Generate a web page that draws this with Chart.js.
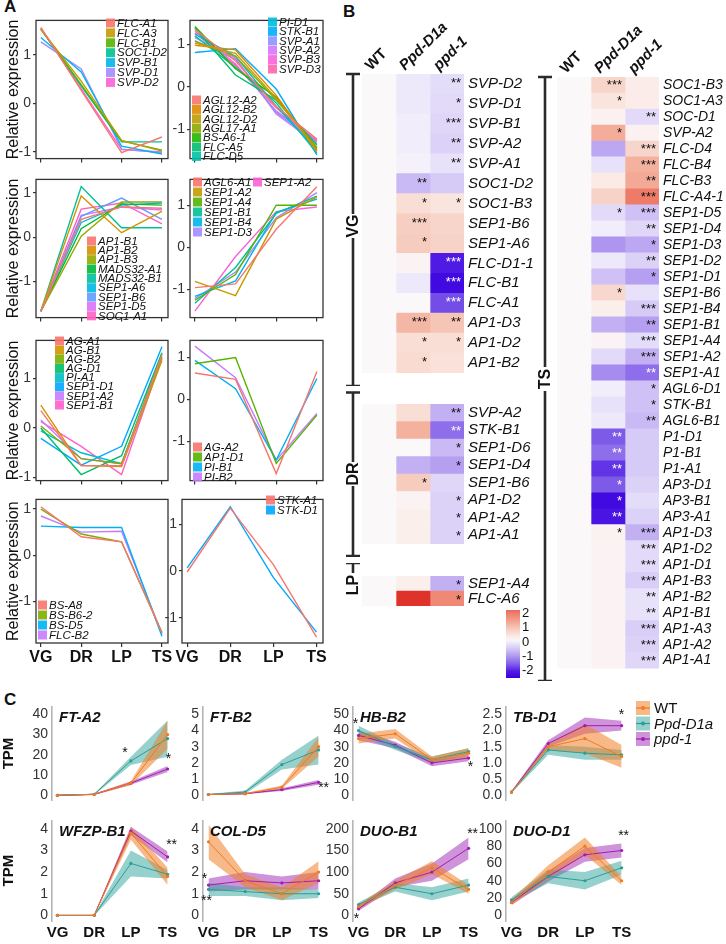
<!DOCTYPE html>
<html>
<head>
<meta charset="utf-8">
<script src="https://cdn.jsdelivr.net/npm/chart.js@4.4.0/dist/chart.umd.min.js"></script>
<style>
  html, body { margin: 0; padding: 0; background: #fff; }
  #fig { position: relative; width: 726px; height: 944px; overflow: hidden; font-family: "Liberation Sans", Arial, sans-serif; }
  #fig canvas { position: absolute; }
  .plab { position: absolute; font-weight: bold; font-size: 17px; color: #111; }
</style>
</head>
<body>
<div id="fig">
  <div class="plab" style="left:4px;top:-3px">A</div>
  <div class="plab" style="left:343px;top:2px">B</div>
  <div class="plab" style="left:4px;top:690px">C</div>
</div>
<script>
'use strict'

const stages = ['VG', 'DR', 'LP', 'TS']

// ---------- Panel A : relative expression per cluster ----------
const a1Genes = ['FLC-A1', 'FLC-A3', 'FLC-B1', 'SOC1-D2', 'SVP-B1', 'SVP-D1', 'SVP-D2']
const a1Values = [
    [1.57, 0.27, -1.01, -0.69],
    [1.53, 0.46, -0.76, -0.98],
    [1.53, 0.39, -0.77, -0.96],
    [1.54, 0.36, -0.79, -0.79],
    [1.36, 0.65, -0.88, -1.04],
    [1.27, 0.71, -0.94, -1.01],
    [1.55, 0.30, -0.95, -1.00]
]
const a2Genes = ['AGL12-A2', 'AGL12-B2', 'AGL12-D2', 'AGL17-A1', 'BS-A6-1', 'FLC-A5', 'FLC-D5',
    'PI-D1', 'STK-B1', 'SVP-A1', 'SVP-A2', 'SVP-B3', 'SVP-D3']
const a2Values = [
    [1.35, 0.61, -0.46, -1.23],
    [0.98, 0.87, -0.20, -1.52],
    [1.03, 0.79, -0.27, -1.47],
    [1.07, 0.72, -0.31, -1.42],
    [1.42, 0.43, -0.24, -1.45],
    [1.38, 0.28, -0.31, -1.37],
    [1.20, 0.46, -0.38, -1.56],
    [1.24, 0.72, -0.46, -1.49],
    [0.81, 0.90, -0.05, -1.60],
    [1.09, 0.65, -0.60, -1.30],
    [1.16, 0.68, -0.64, -1.34],
    [1.31, 0.54, -0.57, -1.26],
    [1.27, 0.50, -0.49, -1.28]
]
const a3Genes = ['AP1-B1', 'AP1-B2', 'AP1-B3', 'MADS32-A1', 'MADS32-B1', 'SEP1-A6', 'SEP1-B6', 'SEP1-D5', 'SOC1-A1']
const a3Values = [
    [-1.67, 0.40, 0.68, 0.65],
    [-1.67, 0.93, 0.10, 0.58],
    [-1.67, 0.02, 0.79, 0.79],
    [-1.67, 0.19, 0.75, 0.72],
    [-1.67, 1.14, 0.21, 0.21],
    [-1.67, 0.33, 0.72, 0.77],
    [-1.67, 0.47, 0.88, 0.40],
    [-1.67, 0.49, 0.68, 0.61],
    [-1.67, 0.63, 0.77, 0.30]
]
const a4Genes = ['AGL6-A1', 'SEP1-A2', 'SEP1-A4', 'SEP1-B1', 'SEP1-B4', 'SEP1-D3', 'SEP1-A2']
const a4Values = [
    [-0.96, -0.87, 0.43, 1.44],
    [-0.81, -1.15, 0.67, 1.20],
    [-1.26, -0.65, 1.00, 1.00],
    [-1.33, -0.48, 0.81, 1.22],
    [-1.17, -0.80, 0.83, 1.15],
    [-1.22, -0.59, 0.70, 1.30],
    [-1.52, -0.22, 0.85, 0.96]
]
const a5Genes = ['AG-A1', 'AG-B1', 'AG-B2', 'AG-D1', 'PI-A1', 'SEP1-D1', 'SEP1-A2', 'SEP1-B1']
const a5Values = [
    [0.35, -0.76, -0.76, 1.48],
    [0.46, -0.76, -0.78, 1.36],
    [0.04, -0.62, -0.72, 1.44],
    [0.00, -0.94, -0.56, 1.52],
    [-0.06, -0.50, -0.72, 1.50],
    [-0.21, -0.75, -0.37, 1.64],
    [0.16, -0.62, -0.72, 1.40],
    [0.13, -0.37, -0.94, 1.42]
]
const a6Genes = ['AG-A2', 'AP1-D1', 'PI-B1', 'PI-B2']
const a6Values = [
    [0.63, 0.48, -1.76, 0.67],
    [0.85, 1.00, -1.52, -0.37],
    [0.93, 0.26, -1.44, 0.50],
    [1.27, 0.52, -1.44, -0.33]
]
const a7Genes = ['BS-A8', 'BS-B6-2', 'BS-D5', 'FLC-B2']
const a7Values = [
    [1.05, 0.40, 0.29, -1.67],
    [1.00, 0.46, 0.29, -1.67],
    [0.63, 0.60, 0.60, -1.75],
    [0.85, 0.50, 0.52, -1.70]
]
const a8Genes = ['STK-A1', 'STK-D1']
const a8Values = [
    [-0.02, 1.35, 0.14, -1.42],
    [0.07, 1.38, -0.14, -1.31]
]

// ---------- Panel B : heat maps (WT, Ppd-D1a, ppd-1) ----------
const hmCols = ['WT', 'Ppd-D1a', 'ppd-1']
const vgGenes = ['SVP-D2', 'SVP-D1', 'SVP-B1', 'SVP-A2', 'SVP-A1', 'SOC1-D2', 'SOC1-B3', 'SEP1-B6', 'SEP1-A6',
    'FLC-D1-1', 'FLC-B1', 'FLC-A1', 'AP1-D3', 'AP1-D2', 'AP1-B2']
const vgHeat = [
    [0, -0.2, -0.35], [0, -0.2, -0.4], [0, -0.15, -0.45], [0, -0.15, -0.5], [0, -0.1, -0.3],
    [0, -0.8, -0.6], [0, 0.5, 0.4], [0, 0.75, 0.65], [0, 0.8, 0.7],
    [0, 0.1, -2.3], [0, -0.2, -2.6], [0, 0, -1.9], [0, 1.1, 0.9], [0, 0.5, 0.5], [0, 0.55, 0.45]
]
const vgStars = [
    ['', '', '**'], ['', '', '*'], ['', '', '***'], ['', '', '**'], ['', '', '**'],
    ['', '**', ''], ['', '*', '*'], ['', '***', ''], ['', '*', ''],
    ['', '', '***'], ['', '', '***'], ['', '', '***'], ['', '***', '**'], ['', '*', '*'], ['', '*', '']
]
const drGenes = ['SVP-A2', 'STK-B1', 'SEP1-D6', 'SEP1-D4', 'SEP1-B6', 'AP1-D2', 'AP1-A2', 'AP1-A1']
const drHeat = [
    [0, 0.5, -0.9], [0, 1.2, -1.6], [0, 0, -0.8], [0, -0.9, -1.1],
    [0, 0.8, -0.45], [0, 0.1, -0.5], [0, 0.2, -0.5], [0, 0.2, -0.5]
]
const drStars = [
    ['', '', '**'], ['', '', '**'], ['', '', '*'], ['', '', '*'],
    ['', '*', ''], ['', '', '*'], ['', '', '*'], ['', '', '*']
]
const lpGenes = ['SEP1-A4', 'FLC-A6']
const lpHeat = [[0, 0.2, -0.9], [0, 2.8, 1.8]]
const lpStars = [['', '', '*'], ['', '', '*']]
const tsGenes = ['SOC1-B3', 'SOC1-A3', 'SOC-D1', 'SVP-A2', 'FLC-D4', 'FLC-B4', 'FLC-B3', 'FLC-A4-1',
    'SEP1-D5', 'SEP1-D4', 'SEP1-D3', 'SEP1-D2', 'SEP1-D1', 'SEP1-B6', 'SEP1-B4', 'SEP1-B1', 'SEP1-A4',
    'SEP1-A2', 'SEP1-A1', 'AGL6-D1', 'STK-B1', 'AGL6-B1', 'P1-D1', 'P1-B1', 'P1-A1', 'AP3-D1', 'AP3-B1',
    'AP3-A1', 'AP1-D3', 'AP1-D2', 'AP1-D1', 'AP1-B3', 'AP1-B2', 'AP1-B1', 'AP1-A3', 'AP1-A2', 'AP1-A1']
const tsHeat = [
    [0, 0.65, 0.25], [0, 0.4, 0.25], [0, 0.15, -0.4], [0, 1.25, 0.15], [0, -1.0, 0.65], [0, -0.3, 1.2],
    [0, 0.3, 1.3], [0, 0.7, 2.0], [0, -0.4, -0.7], [0, -0.15, -0.45], [0, -1.2, -1.0], [0, -0.2, -0.5],
    [0, -0.7, -1.1], [0, 0.6, -0.3], [0, 0.2, -0.6], [0, -0.9, -1.1], [0, 0.1, -0.35], [0, -0.4, -0.9],
    [0, -1.3, -1.6], [0, -0.15, -0.7], [0, -0.3, -0.7], [0, -0.2, -0.8], [0, -1.8, -0.6], [0, -1.6, -0.6],
    [0, -2.1, -0.6], [0, -1.8, -0.5], [0, -2.6, -0.35], [0, -2.4, -0.5], [0, 0.15, -0.9], [0, 0.1, -0.4],
    [0, 0.1, -0.4], [0, 0.1, -0.55], [0, 0.1, -0.3], [0, 0.1, -0.3], [0, 0.1, -0.55], [0, 0.1, -0.5],
    [0, 0.1, -0.45]
]
const tsStars = [
    ['', '***', ''], ['', '*', ''], ['', '', '**'], ['', '*', ''], ['', '', '***'], ['', '', '***'],
    ['', '', '**'], ['', '', '***'], ['', '*', '***'], ['', '', '**'], ['', '', '*'], ['', '', '**'],
    ['', '', '*'], ['', '*', ''], ['', '', '***'], ['', '', '**'], ['', '', '***'], ['', '', '***'],
    ['', '', '**'], ['', '', '*'], ['', '', '*'], ['', '', '**'], ['', '**', ''], ['', '**', ''],
    ['', '**', ''], ['', '*', ''], ['', '*', ''], ['', '**', ''], ['', '*', '***'], ['', '', '***'],
    ['', '', '***'], ['', '', '***'], ['', '', '**'], ['', '', '**'], ['', '', '***'], ['', '', '***'],
    ['', '', '***']
]
const barTicks = [2, 1, 0, -1, -2]

// ---------- Panel C : TPM, mean and band per genotype (WT, Ppd-D1a, ppd-1) ----------
const genotypes = ['WT', 'Ppd-D1a', 'ppd-1']
const ftA2Mean = [[0, 0.5, 6, 30], [0, 0.5, 17, 28], [0, 0.5, 6, 13]]
const ftA2Se = [[0.3, 0.3, 1, 7], [0.3, 0.3, 2, 9], [0.3, 0.3, 0.8, 1.5]]
const ftB2Mean = [[0.05, 0.1, 0.5, 3.0], [0.05, 0.2, 1.9, 2.8], [0.05, 0.1, 0.35, 0.8]]
const ftB2Se = [[0.03, 0.05, 0.1, 0.6], [0.03, 0.1, 0.3, 0.9], [0.03, 0.03, 0.08, 0.15]]
const hbB2Mean = [[35, 38, 22, 26], [40, 30, 22, 27], [37, 31, 20, 23]]
const hbB2Se = [[3, 3, 2, 3], [3, 2, 2, 2], [3, 2, 2, 2]]
const tbD1Mean = [[0.1, 1.5, 1.75, 1.2], [0.1, 1.4, 1.3, 1.25], [0.1, 1.6, 2.15, 2.15]]
const tbD1Se = [[0.03, 0.1, 0.45, 0.35], [0.03, 0.15, 0.2, 0.15], [0.03, 0.1, 0.25, 0.15]]
const wfzpB1Mean = [[0, 0, 3.8, 1.8], [0, 0, 2.4, 1.9], [0, 0, 3.9, 2.7]]
const wfzpB1Se = [[0.02, 0.02, 0.3, 0.4], [0.02, 0.02, 0.6, 0.2], [0.02, 0.02, 0.2, 0.25]]
const colD5Mean = [[3.4, 1.6, 1.0, 2.0], [1.2, 1.1, 1.0, 1.0], [1.4, 1.6, 1.5, 1.6]]
const colD5Se = [[0.8, 0.3, 0.3, 0.5], [0.3, 0.2, 0.3, 0.2], [0.3, 0.4, 0.3, 0.4]]
const duoB1Mean = [[20, 70, 110, 60], [25, 65, 50, 70], [15, 75, 100, 155]]
const duoB1Se = [[5, 10, 15, 10], [5, 10, 15, 15], [5, 10, 20, 25]]
const duoD1Mean = [[15, 50, 80, 40], [18, 45, 40, 55], [15, 45, 70, 75]]
const duoD1Se = [[3, 8, 10, 5], [3, 8, 10, 8], [3, 6, 8, 8]]

// ggplot style hue palettes
const hue2 = ['#F8766D', '#00A9FF']
const hue4 = ['#F8766D', '#53B400', '#00B0F6', '#C77CFF']
const hue4b = ['#F8766D', '#7CAE00', '#00B0F6', '#C77CFF']
const hue7 = ['#F8766D', '#C49A00', '#53B400', '#00C094', '#00B6EB', '#A58AFF', '#FB61D7']
const hue8 = ['#F8766D', '#CD9600', '#7CAE00', '#00BE67', '#00BFC4', '#00A9FF', '#C77CFF', '#FF61CC']
const hue9 = ['#F8766D', '#D39200', '#93AA00', '#00BA38', '#00C19F', '#00B9E3', '#619CFF', '#DB72FB', '#FF61C3']
const hue13 = ['#F8766D', '#E18A00', '#BE9C00', '#8CAB00', '#24B700', '#00BE70', '#00C1AB', '#00BBDA',
    '#00ACFC', '#8B93FF', '#D575FE', '#F962DD', '#FF65AC']

const FONT = '"Liberation Sans", Arial, Helvetica, sans-serif'
Chart.defaults.font.family = FONT
Chart.defaults.color = '#222'

function canvasAt(l, t, w, h) {
    const c = document.createElement('canvas')
    c.width = w
    c.height = h
    c.style.left = l + 'px'
    c.style.top = t + 'px'
    document.getElementById('fig').appendChild(c)
    return c
}

// frame around the plot area
const boxPlugin = {
    id: 'box',
    afterDraw(chart) {
        const a = chart.chartArea, ctx = chart.ctx
        ctx.save()
        ctx.strokeStyle = '#333'
        ctx.lineWidth = 1.3
        ctx.strokeRect(a.left, a.top, a.right - a.left, a.bottom - a.top)
        ctx.restore()
    }
}

// legend drawn inside the panel (groups of items, absolute page coords)
function legendPlugin(groups, ox, oy) {
    return {
        id: 'inlegend',
        afterDraw(chart) {
            const ctx = chart.ctx
            const ds = chart.data.datasets
            ctx.save()
            ctx.font = 'italic 11.5px ' + FONT
            ctx.textBaseline = 'middle'
            groups.forEach(g => {
                for (let i = g.from; i <= g.to; i++) {
                    const y = g.y + (i - g.from) * g.dy - oy
                    const x = g.x - ox
                    ctx.fillStyle = ds[i].borderColor
                    ctx.globalAlpha = 0.9
                    ctx.fillRect(x, y - 4.5, 9, 9)
                    ctx.globalAlpha = 1
                    ctx.fillStyle = '#111'
                    ctx.fillText(ds[i].label, x + 11, y + 0.5)
                }
            })
            ctx.restore()
        }
    }
}

function exprChart(p) {
    const cl = p.cl, ct = p.at - 5, cr = p.ar + 12, cb = p.ab + (p.xlab ? 24 : 6)
    const per = (p.pym1 - p.py1) / 2
    const zero = (p.py1 + p.pym1) / 2
    const ymax = (zero - p.at) / per
    const ymin = -(p.ab - zero) / per
    const cv = canvasAt(cl, ct, cr - cl, cb - ct)
    new Chart(cv, {
        type: 'line',
        data: {
            datasets: p.genes.map((g, i) => ({
                label: g,
                data: p.values[i].map((v, j) => ({x: j, y: v})),
                borderColor: p.colors[i],
                borderWidth: 1.4,
                pointRadius: 0,
                fill: false,
                tension: 0
            }))
        },
        options: {
            responsive: false,
            animation: false,
            layout: {padding: {top: p.at - ct, right: cr - p.ar, left: 0, bottom: 0}},
            plugins: {legend: {display: false}, tooltip: {enabled: false}},
            scales: {
                x: {
                    type: 'linear', min: -0.12, max: 3.15,
                    afterBuildTicks: s => { s.ticks = [0, 1, 2, 3].map(v => ({value: v})) },
                    afterFit: s => { s.height = cb - p.ab },
                    grid: {drawOnChartArea: false, tickLength: 4, color: '#333', lineWidth: 1.2},
                    border: {display: false},
                    ticks: {
                        display: !!p.xlab, maxRotation: 0, padding: 1, color: '#111',
                        font: {size: 16, weight: 'bold'},
                        callback: v => stages[v]
                    }
                },
                y: {
                    min: ymin, max: ymax,
                    afterBuildTicks: s => { s.ticks = [-1, 0, 1].map(v => ({value: v})) },
                    afterFit: s => { s.width = p.al - cl },
                    grid: {drawOnChartArea: false, tickLength: 3, color: '#333', lineWidth: 1.2},
                    border: {display: false},
                    ticks: {font: {size: 14}, color: '#333', padding: 2, autoSkip: false},
                    title: {
                        display: !!p.ytitle, text: 'Relative expression', color: '#111',
                        font: {size: 16}, padding: {top: 4, bottom: 0}
                    }
                }
            }
        },
        plugins: [boxPlugin, legendPlugin(p.legend, cl, ct)]
    })
}

// row tops/bottoms and column lefts/rights of panel A
exprChart({genes: a1Genes, values: a1Values, colors: hue7, cl: 0, al: 36, ar: 168, at: 15, ab: 163,
    py1: 52, pym1: 156, ytitle: true, legend: [{x: 106, y: 23, dy: 9.9, from: 0, to: 6}]})
exprChart({genes: a2Genes, values: a2Values, colors: hue13, cl: 168, al: 190, ar: 323, at: 15, ab: 163,
    py1: 40.7, pym1: 131.7, legend: [{x: 268, y: 22, dy: 9.4, from: 7, to: 12}, {x: 192, y: 100, dy: 9.4, from: 0, to: 6}]})
exprChart({genes: a3Genes, values: a3Values, colors: hue9, cl: 0, al: 36, ar: 168, at: 174, ab: 322,
    py1: 188.3, pym1: 283.3, ytitle: true, legend: [{x: 87, y: 241, dy: 9.35, from: 0, to: 8}]})
exprChart({genes: a4Genes, values: a4Values, colors: hue7, cl: 168, al: 190, ar: 323, at: 174, ab: 322,
    py1: 201.7, pym1: 291.7, legend: [{x: 193, y: 182, dy: 10, from: 0, to: 5}, {x: 253, y: 182, dy: 10, from: 6, to: 6}]})
exprChart({genes: a5Genes, values: a5Values, colors: hue8, cl: 0, al: 36, ar: 168, at: 335, ab: 485,
    py1: 375.7, pym1: 481.7, ytitle: true, legend: [{x: 55, y: 341, dy: 9.15, from: 0, to: 7}]})
exprChart({genes: a6Genes, values: a6Values, colors: hue4, cl: 168, al: 190, ar: 323, at: 335, ab: 485,
    py1: 353.3, pym1: 443.3, legend: [{x: 193, y: 447, dy: 10, from: 0, to: 3}]})
exprChart({genes: a7Genes, values: a7Values, colors: hue4b, cl: 0, al: 36, ar: 168, at: 494, ab: 643,
    py1: 504, pym1: 600, ytitle: true, xlab: true, legend: [{x: 38, y: 605, dy: 10, from: 0, to: 3}]})
exprChart({genes: a8Genes, values: a8Values, colors: hue2, cl: 160, al: 182, ar: 323, at: 494, ab: 643,
    py1: 520, pym1: 616.7, xlab: true, legend: [{x: 266, y: 500, dy: 10, from: 0, to: 1}]})

// ---------- heat map helpers ----------
const heatStops = [
    [-2.8, [56, 0, 222]], [-2.3, [78, 26, 228]], [-1.8, [126, 90, 232]], [-1.2, [174, 150, 240]],
    [-0.6, [214, 202, 246]], [-0.2, [237, 233, 250]], [0, [251, 248, 249]], [0.3, [251, 234, 230]],
    [0.8, [246, 204, 190]], [1.5, [241, 156, 134]], [2.1, [236, 116, 98]], [2.8, [222, 50, 42]]
]
function heat(v) {
    v = Math.max(-2.8, Math.min(2.8, v))
    for (let i = 1; i < heatStops.length; i++) {
        const [v1, c1] = heatStops[i]
        const [v0, c0] = heatStops[i - 1]
        if (v <= v1) {
            const t = (v - v0) / (v1 - v0)
            const c = c0.map((x, k) => Math.round(x + (c1[k] - x) * t))
            return 'rgb(' + c.join(',') + ')'
        }
    }
    return 'rgb(222,50,42)'
}

function sideBar(ctx, x, y0, y1, label, ty, caps) {
    ctx.save()
    ctx.strokeStyle = '#2a2a2a'
    ctx.lineWidth = 2.6
    ctx.beginPath()
    ctx.moveTo(x, y0); ctx.lineTo(x, ty - 12)
    if (y1 > ty + 12) { ctx.moveTo(x, ty + 12); ctx.lineTo(x, y1) }
    ctx.moveTo(x - 7, y0); ctx.lineTo(x + 7, y0)
    if (caps) { ctx.moveTo(x - 7, y1); ctx.lineTo(x + 7, y1) }
    ctx.stroke()
    ctx.translate(x, ty)
    ctx.rotate(-Math.PI / 2)
    ctx.fillStyle = '#111'
    ctx.font = 'bold 16px ' + FONT
    ctx.textAlign = 'center'
    ctx.textBaseline = 'middle'
    ctx.fillText(label, 0, 1)
    ctx.restore()
}

function headers(ctx, chart, ty) {
    const a = chart.chartArea
    const w = (a.right - a.left) / 3
    ctx.save()
    hmCols.forEach((h, c) => {
        ctx.save()
        ctx.translate(a.left + w * c + w / 2 - 8, ty)
        ctx.rotate(-Math.PI / 4)
        ctx.fillStyle = '#111'
        ctx.font = (c === 0 ? 'bold ' : 'italic bold ') + '15px ' + FONT
        ctx.fillText(h, 0, 0)
        ctx.restore()
    })
    ctx.restore()
}

function heatChart(p) {
    const cv = canvasAt(p.cl, p.ct, p.cw, p.ch)
    const decor = {
        id: 'decor',
        afterDatasetsDraw(chart) {
            const ctx = chart.ctx
            ctx.save()
            ctx.font = '13px ' + FONT
            ctx.textAlign = 'right'
            ctx.textBaseline = 'alphabetic'
            for (let c = 0; c < 3; c++) {
                const meta = chart.getDatasetMeta(c)
                meta.data.forEach((el, i) => {
                    const s = p.stars[i][c]
                    if (!s) return
                    const right = Math.max(el.x, el.base)
                    const top = el.y - el.height / 2
                    ctx.fillStyle = p.heat[i][c] < -1.5 ? '#fff' : '#111'
                    ctx.fillText(s, right - 3, top + p.starDy)
                })
            }
            ctx.restore()
            if (p.extra) p.extra(ctx, chart)
        }
    }
    new Chart(cv, {
        type: 'bar',
        data: {
            labels: p.genes,
            datasets: hmCols.map((h, c) => ({
                label: h,
                data: p.genes.map(() => 1),
                backgroundColor: p.heat.map(r => heat(r[c])),
                borderWidth: 0,
                barPercentage: 1,
                categoryPercentage: 1
            }))
        },
        options: {
            indexAxis: 'y',
            responsive: false,
            animation: false,
            layout: {padding: {left: p.pl, top: p.pt, bottom: p.pb, right: 0}},
            plugins: {legend: {display: false}, tooltip: {enabled: false}},
            scales: {
                x: {stacked: true, display: false, min: 0, max: 3},
                y: {
                    stacked: true, position: 'right',
                    afterFit: s => { s.width = p.labW },
                    grid: {display: false, drawTicks: false},
                    border: {display: false},
                    ticks: {autoSkip: false, padding: 4, color: '#111', font: {size: p.fs, style: 'italic'}}
                }
            }
        },
        plugins: [decor]
    })
}

// left heat map, VG block (canvas starts at page x 340, y 0)
heatChart({genes: vgGenes, heat: vgHeat, stars: vgStars, cl: 340, ct: 0, cw: 200, ch: 386,
    pl: 22, pt: 74, pb: 0, labW: 76, fs: 15, starDy: 13,
    extra(ctx, chart) {
        headers(ctx, chart, 71)
        sideBar(ctx, 13, 74, 386, 'VG', 226, true)
    }})
heatChart({genes: drGenes, heat: drHeat, stars: drStars, cl: 340, ct: 391, cw: 200, ch: 166,
    pl: 22, pt: 0, pb: 0, labW: 76, fs: 15, starDy: 13,
    extra(ctx) { sideBar(ctx, 13, 1.5, 165, 'DR', 83, true) }})
heatChart({genes: lpGenes, heat: lpHeat, stars: lpStars, cl: 340, ct: 563, cw: 200, ch: 130,
    pl: 22, pt: 0, pb: 87, labW: 76, fs: 15, starDy: 13,
    extra(ctx) {
        sideBar(ctx, 13, 0, 20, 'LP', 22, false)
        // colour bar
        const x = 166, y0 = 47, y1 = 115
        const g = ctx.createLinearGradient(0, y0, 0, y1)
        for (let k = 0; k <= 20; k++) {
            const v = 2.1 - k * (4.75 / 20)
            g.addColorStop(k / 20, heat(v * 1.05))
        }
        ctx.save()
        ctx.fillStyle = g
        ctx.fillRect(x, y0, 14, y1 - y0)
        ctx.fillStyle = '#111'
        ctx.font = '13px ' + FONT
        ctx.textBaseline = 'middle'
        barTicks.forEach(v => ctx.fillText(String(v), x + 16, 79 - v * 14.3))
        ctx.restore()
    }})
// right heat map, TS block
heatChart({genes: tsGenes, heat: tsHeat, stars: tsStars, cl: 530, ct: 0, cw: 196, ch: 681,
    pl: 27, pt: 77, pb: 0, labW: 67, fs: 14, starDy: 12,
    extra(ctx, chart) {
        headers(ctx, chart, 74)
        sideBar(ctx, 15, 77, 681, 'TS', 379, true)
    }})

// ---------- Panel C ----------
const lineCols = ['#F07A1E', '#2A9D96', '#A11DB4']
const bandCols = ['rgba(242,128,40,0.55)', 'rgba(48,164,156,0.5)', 'rgba(160,40,180,0.5)']

function tpmChart(p) {
    const per = (p.zeroPx - p.topPx) / p.topTick
    const ymax = p.topTick + (p.topPx - p.at) / per
    const ymin = -(p.ab - p.zeroPx) / per
    const cl = p.ax - p.yw, ct = p.at - 6, cr = p.cr, cb = p.xlab ? 944 : p.ab + 6
    const ar = p.ax + 120
    const datasets = []
    genotypes.forEach((g, k) => {
        const m = p.mean[k], s = p.se[k]
        datasets.push({data: m.map((v, j) => ({x: j, y: v - s[j]})), borderWidth: 0, pointRadius: 0, fill: false, order: 2})
        datasets.push({data: m.map((v, j) => ({x: j, y: v + s[j]})), borderWidth: 0, pointRadius: 0,
            fill: '-1', backgroundColor: bandCols[k], order: 2})
        datasets.push({label: g, data: m.map((v, j) => ({x: j, y: v})), borderColor: lineCols[k], borderWidth: 1,
            pointRadius: 1.6, pointBackgroundColor: lineCols[k], pointBorderWidth: 0, fill: false, order: 1})
    })
    const deco = {
        id: 'cdeco',
        afterDraw(chart) {
            const ctx = chart.ctx, a = chart.chartArea
            const xs = chart.scales.x, ys = chart.scales.y
            ctx.save()
            ctx.fillStyle = '#111'
            ctx.font = 'italic bold 15px ' + FONT
            ctx.textBaseline = 'top'
            ctx.fillText(p.title, a.left + 7, a.top + 4)
            ctx.font = '14px ' + FONT
            ctx.textAlign = 'center'
            ctx.textBaseline = 'middle'
            p.stars.forEach(s => ctx.fillText(s.t, xs.getPixelForValue(s.x) + s.dx, ys.getPixelForValue(s.y) + s.dy))
            if (p.legend) {
                ctx.textAlign = 'left'
                genotypes.forEach((g, k) => {
                    const x = 636 - cl, y = 708 + k * 15.5 - ct
                    ctx.fillStyle = bandCols[k]
                    ctx.fillRect(x, y - 7, 14, 14)
                    ctx.strokeStyle = lineCols[k]
                    ctx.lineWidth = 1.2
                    ctx.beginPath(); ctx.moveTo(x, y); ctx.lineTo(x + 14, y); ctx.stroke()
                    ctx.fillStyle = lineCols[k]
                    ctx.beginPath(); ctx.arc(x + 7, y, 2, 0, Math.PI * 2); ctx.fill()
                    ctx.fillStyle = '#111'
                    ctx.font = (k === 0 ? '' : 'italic ') + '15px ' + FONT
                    ctx.fillText(g, x + 18, y + 1)
                })
            }
            ctx.restore()
        }
    }
    const cv = canvasAt(cl, ct, cr - cl, cb - ct)
    new Chart(cv, {
        type: 'line',
        data: {datasets},
        options: {
            responsive: false,
            animation: false,
            layout: {padding: {top: p.at - ct, right: cr - ar, left: 0, bottom: p.xlab ? 0 : cb - p.ab}},
            plugins: {legend: {display: false}, tooltip: {enabled: false}, filler: {propagate: false}},
            scales: {
                x: {
                    type: 'linear', min: -0.15, max: 3.12, display: !!p.xlab,
                    afterBuildTicks: s => { s.ticks = [0, 1, 2, 3].map(v => ({value: v})) },
                    afterFit: s => { s.height = cb - p.ab },
                    grid: {display: false, drawTicks: false},
                    border: {display: false},
                    ticks: {maxRotation: 0, padding: 3, color: '#111', font: {size: 15, weight: 'bold'}, callback: v => stages[v]}
                },
                y: {
                    min: ymin, max: ymax,
                    afterBuildTicks: s => { s.ticks = p.ticks.map(v => ({value: v})) },
                    afterFit: s => { s.width = p.yw },
                    grid: {display: false, drawTicks: false},
                    border: {display: true, color: '#b5b5b5', width: 1.6},
                    ticks: {
                        autoSkip: false, padding: 4, color: '#333', font: {size: 14},
                        callback: v => p.dec ? v.toFixed(1) : String(v)
                    },
                    title: {display: !!p.tpm, text: 'TPM', color: '#111', font: {size: 15, weight: 'bold'}, padding: {top: 0, bottom: 2}}
                }
            }
        },
        plugins: [deco]
    })
}

// plot rows of panel C: area top/bottom and pixel rows of the top tick and of zero
const row1 = {at: 700, ab: 807, topPx: 709, zeroPx: 801}
const row2 = {at: 814, ab: 921, topPx: 823, zeroPx: 915}
tpmChart(Object.assign({title: 'FT-A2', mean: ftA2Mean, se: ftA2Se, ticks: [0, 10, 20, 30, 40], topTick: 40,
    ax: 52, yw: 52, cr: 200, tpm: true,
    stars: [{t: '*', x: 2, y: 17, dx: -6, dy: -8}, {t: '*', x: 3, y: 13, dx: 1, dy: -10}]}, row1))
tpmChart(Object.assign({title: 'FT-B2', mean: ftB2Mean, se: ftB2Se, ticks: [0, 1, 2, 3, 4, 5], topTick: 5,
    ax: 203, yw: 40, cr: 350,
    stars: [{t: '**', x: 3, y: 0.8, dx: 5, dy: 6}]}, row1))
tpmChart(Object.assign({title: 'HB-B2', mean: hbB2Mean, se: hbB2Se, ticks: [0, 10, 20, 30, 40, 50], topTick: 50,
    ax: 353, yw: 40, cr: 500,
    stars: [{t: '*', x: 0, y: 40, dx: -3, dy: -6}, {t: '*', x: 3, y: 23, dx: 2, dy: 9}]}, row1))
tpmChart(Object.assign({title: 'TB-D1', mean: tbD1Mean, se: tbD1Se, ticks: [0, 0.5, 1, 1.5, 2, 2.5], topTick: 2.5,
    ax: 506, yw: 40, cr: 726, dec: true, legend: true,
    stars: [{t: '*', x: 3, y: 2.5, dx: 0, dy: 1}]}, row1))
tpmChart(Object.assign({title: 'WFZP-B1', mean: wfzpB1Mean, se: wfzpB1Se, ticks: [0, 1, 2, 3, 4], topTick: 4,
    ax: 52, yw: 52, cr: 200, tpm: true, xlab: true,
    stars: [{t: '**', x: 3, y: 2.7, dx: 4, dy: -12}]}, row2))
tpmChart(Object.assign({title: 'COL-D5', mean: colD5Mean, se: colD5Se, ticks: [0, 1, 2, 3, 4], topTick: 4,
    ax: 203, yw: 40, cr: 350, xlab: true,
    stars: [{t: '*', x: 0, y: 1.4, dx: -4, dy: -6}, {t: '**', x: 0, y: 1.2, dx: -2, dy: 12}]}, row2))
tpmChart(Object.assign({title: 'DUO-B1', mean: duoB1Mean, se: duoB1Se, ticks: [0, 50, 100, 150, 200], topTick: 200,
    ax: 353, yw: 40, cr: 500, xlab: true,
    stars: [{t: '*', x: 0, y: 15, dx: -2, dy: 10}, {t: '**', x: 3, y: 155, dx: 4, dy: -14}]}, row2))
tpmChart(Object.assign({title: 'DUO-D1', mean: duoD1Mean, se: duoD1Se, ticks: [0, 20, 40, 60, 80, 100], topTick: 100,
    ax: 506, yw: 40, cr: 660, xlab: true,
    stars: [{t: '**', x: 3, y: 75, dx: 2, dy: -14}]}, row2))
</script>
</body>
</html>
